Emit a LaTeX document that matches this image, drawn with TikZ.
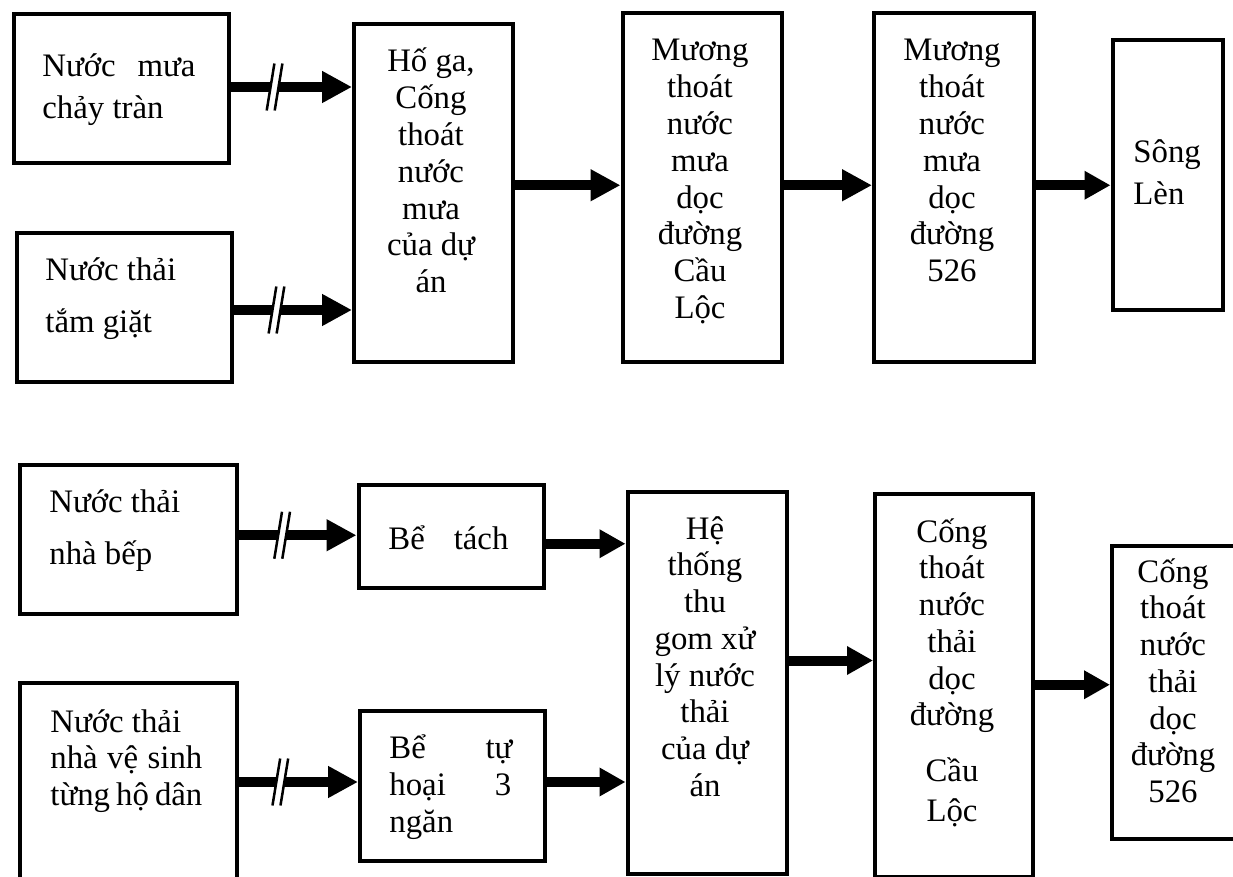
\documentclass[tikz,border=0pt]{standalone}
\usepackage{fontspec}
\setmainfont{Liberation Serif}
\usetikzlibrary{arrows.meta,calc}
\newcommand\breakmark[1]{%
  \fill[white] ($(#1)+(-4+1,-6.5)$) -- ($(#1)+(4+1,-6.5)$) -- ($(#1)+(4-1,6.5)$) -- ($(#1)+(-4-1,6.5)$) -- cycle;
  \draw[line width=1.25pt] ($(#1)+(-4-3.85,23.5)$) -- ($(#1)+(-4+3.85,-23.5)$);
  \draw[line width=1.25pt] ($(#1)+(4-3.85,23.5)$) -- ($(#1)+(4+3.85,-23.5)$);}
\begin{document}
\begin{tikzpicture}[x=0.5pt,y=-0.5pt,
  box/.style={draw,line width=2pt,inner sep=0pt,anchor=north west},
  arr/.style={line width=5pt,-{Triangle[length=15pt,width=15pt]}},
  arrs/.style={line width=5pt,-{Triangle[length=13pt,width=13.5pt]}},
  txtl/.style={inner sep=0pt,anchor=base west,font=\fontsize{16.4pt}{#1}\selectfont},
  txtc/.style={inner sep=0pt,anchor=base,font=\fontsize{16.4pt}{18.4pt}\selectfont}]
\useasboundingbox (0,0) rectangle (1233,877);
\clip (0,0) rectangle (1233,877);
% boxes
\node[box,minimum width=107.5pt,minimum height=74.5pt] (A) at (12,12) {};
\node[box,minimum width=107.5pt,minimum height=74.5pt] (B) at (15,231) {};
\node[box,minimum width=79.5pt,minimum height=169pt] (C) at (352,22.5) {};
\node[box,minimum width=79.5pt,minimum height=174.75pt] (D) at (620.5,11) {};
\node[box,minimum width=80pt,minimum height=174.75pt] (E) at (872,11) {};
\node[box,minimum width=55.25pt,minimum height=135pt] (F) at (1110.5,38) {};
\node[box,minimum width=108.25pt,minimum height=74.5pt] (G) at (18,463) {};
\node[box,minimum width=108.25pt,minimum height=120pt] (H) at (18,681) {};
\node[box,minimum width=92.5pt,minimum height=51.25pt] (I) at (356.5,483.5) {};
\node[box,minimum width=92.5pt,minimum height=75pt] (J) at (358,709) {};
\node[box,minimum width=79.75pt,minimum height=191pt] (K) at (625.5,490) {};
\node[box,minimum width=79pt,minimum height=191.25pt] (L) at (873,492.5) {};
\node[box,minimum width=75pt,minimum height=146.5pt] (M) at (1110,544) {};
% texts
\node[txtl=21pt] (tA) at (42,77) {\begin{tabular}[t]{@{}l@{}}\makebox[76.5pt][s]{Nước mưa}\\chảy tràn\end{tabular}};
\node[txtl=26pt] (tB) at (45,281) {\begin{tabular}[t]{@{}l@{}}Nước thải\\tắm giặt\end{tabular}};
\node[txtc] (tC) at (431,72) {\begin{tabular}[t]{@{}c@{}}Hố ga,\\Cống\\thoát\\nước\\mưa\\của dự\\án\end{tabular}};
\node[txtc] (tD) at (700,61) {\begin{tabular}[t]{@{}c@{}}Mương\\thoát\\nước\\mưa\\dọc\\đường\\Cầu\\Lộc\end{tabular}};
\node[txtc] (tE) at (952,61) {\begin{tabular}[t]{@{}c@{}}Mương\\thoát\\nước\\mưa\\dọc\\đường\\526\end{tabular}};
\node[txtl=21pt] (tF) at (1133,163) {\begin{tabular}[t]{@{}l@{}}Sông\\Lèn\end{tabular}};
\node[txtl=26pt] (tG) at (49,513) {\begin{tabular}[t]{@{}l@{}}Nước thải\\nhà bếp\end{tabular}};
\node[txtl=18.35pt] (tH) at (50,732) {\begin{tabular}[t]{@{}l@{}}Nước thải\\\makebox[76pt][s]{nhà vệ sinh}\\\makebox[76pt][s]{từng hộ dân}\end{tabular}};
\node[txtl=18.4pt] (tI) at (388,549) {\makebox[60pt][s]{Bể tách}};
\node[txtl=18.5pt] (tJ) at (389,758) {\begin{tabular}[t]{@{}l@{}}\makebox[61.5pt][s]{Bể tự}\\\makebox[61pt][s]{hoại 3}\\ngăn\end{tabular}};
\node[txtc] (tK) at (705,539) {\begin{tabular}[t]{@{}c@{}}Hệ\\thống\\thu\\gom xử\\lý nước\\thải\\của dự\\án\end{tabular}};
\node[txtc] (tL) at (952,542) {\begin{tabular}[t]{@{}c@{}}Cống\\thoát\\nước\\thải\\dọc\\đường\\[9.2pt]Cầu\\[1.6pt]Lộc\end{tabular}};
\node[txtc] (tM) at (1173,582) {\begin{tabular}[t]{@{}c@{}}Cống\\thoát\\nước\\thải\\dọc\\đường\\526\end{tabular}};
% connectors
\draw[arr] ($(A.east)+(0,-1.5)$) -- coordinate[pos=.36] (sA) ($(A.east -| C.west)+(0,-1.5)$);
\draw[arr] ($(B.east)+(0,2.5)$) -- coordinate[pos=.36] (sB) ($(B.east -| C.west)+(0,2.5)$);
\draw[arr] ($(D.west -| C.east)+(0,-2.5)$) -- ($(D.west)+(0,-2.5)$);
\draw[arr] ($(D.east)+(0,-2.5)$) -- ($(E.west)+(0,-2.5)$);
\draw[arrs] ($(E.east)+(0,-2.5)$) -- ($(E.east -| F.west)+(0,-2.5)$);
\draw[arr] ($(G.east |- I.west)+(0,-1.5)$) -- coordinate[pos=.37] (sG) ($(I.west)+(0,-1.5)$);
\draw[arr] ($(H.east |- J.west)+(0,-4)$) -- coordinate[pos=.35] (sH) ($(J.west)+(0,-4)$);
\draw[arrs] ($(I.east)+(0,7)$) -- ($(I.east -| K.west)+(0,7)$);
\draw[arrs] ($(J.east)+(0,-4)$) -- ($(J.east -| K.west)+(0,-4)$);
\draw[arrs] ($(K.east)+(0,-22.5)$) -- ($(K.east -| L.west)+(0,-22.5)$);
\draw[arrs] ($(L.east)+(0,-1)$) -- ($(L.east -| M.west)+(0,-1)$);
\breakmark{sA}
\breakmark{sB}
\breakmark{sG}
\breakmark{sH}
\end{tikzpicture}
\end{document}
